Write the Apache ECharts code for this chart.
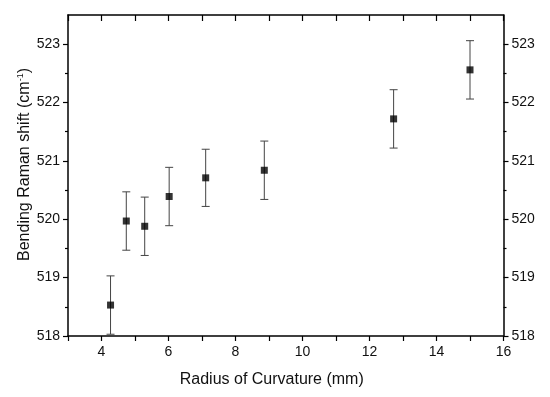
<!DOCTYPE html>
<html><head><meta charset="utf-8">
<script src="https://cdn.jsdelivr.net/npm/echarts@6/dist/echarts.min.js"></script>
<style>html,body{margin:0;padding:0;background:#fff}#c{width:550px;height:397px}</style>
</head><body><div id="c"></div>
<script>
var radius = [4.27, 4.74, 5.29, 6.02, 7.11, 8.86, 12.72, 15.0];
var shift  = [518.53, 519.97, 519.88, 520.39, 520.71, 520.84, 521.72, 522.56];
var err    = [0.5, 0.5, 0.5, 0.5, 0.49, 0.5, 0.5, 0.5];
var xTicks = [3,4,5,6,7,8,9,10,11,12,13,14,15,16];
var xLabels = [4,6,8,10,12,14,16];
var yLabels = [518,519,520,521,522,523];
var yMinor = [518.5,519.5,520.5,521.5,522.5];

var pts = radius.map(function(x,i){return [x, shift[i]];});
var errData = radius.map(function(x,i){return [x, shift[i]-err[i], shift[i]+err[i]];});
var font = 'Liberation Sans, Arial, sans-serif';
var axLine = {show:true, lineStyle:{color:'#000', width:1.5}};
var chart = echarts.init(document.getElementById('c'));
var yBase = {type:'value', min:518, max:523.5, splitLine:{show:false}};
chart.setOption({
  animation:false,
  grid:{left:68, right:46.5, top:15, bottom:61},
  xAxis:[
    {type:'value', min:3, max:16, position:'bottom',
     axisLine:axLine, splitLine:{show:false},
     axisTick:{show:true, inside:false, length:5, customValues:xTicks, lineStyle:{color:'#000',width:1.2}},
     axisLabel:{customValues:xLabels, fontSize:14, color:'#111', margin:9, fontFamily:font},
     name:'Radius of Curvature (mm)', nameLocation:'middle', nameGap:36, nameMoveOverlap:false,
     nameTextStyle:{fontSize:16, color:'#111', fontFamily:font, padding:[0,28,0,0]}},
    {type:'value', min:3, max:16, position:'top',
     axisLine:axLine, splitLine:{show:false},
     axisTick:{show:true, inside:true, length:6, customValues:xTicks, lineStyle:{color:'#000',width:1.2}},
     axisLabel:{show:false}}
  ],
  yAxis:[
    Object.assign({}, yBase, {position:'left',
     axisLine:axLine,
     axisTick:{show:true, length:5, customValues:yLabels, lineStyle:{color:'#000',width:1.2}},
     axisLabel:{customValues:yLabels, fontSize:14, color:'#111', margin:8, fontFamily:font},
     name:'Bending Raman shift (cm{sup|-1})', nameLocation:'middle', nameGap:35, nameMoveOverlap:false,
     nameTextStyle:{fontSize:16, color:'#111', fontFamily:font, padding:[0,0,0,22],
       rich:{sup:{fontSize:9, verticalAlign:'bottom', padding:[0,0,8,0], color:'#111', fontFamily:font}}}}),
    Object.assign({}, yBase, {position:'left',
     axisLine:{show:false},
     axisTick:{show:true, length:3, customValues:yMinor, lineStyle:{color:'#000',width:1.2}},
     axisLabel:{show:false}}),
    Object.assign({}, yBase, {position:'right',
     axisLine:axLine,
     axisTick:{show:true, length:5, customValues:yLabels, lineStyle:{color:'#000',width:1.2}},
     axisLabel:{customValues:yLabels, fontSize:14, color:'#111', margin:8, fontFamily:font}}),
    Object.assign({}, yBase, {position:'right',
     axisLine:{show:false},
     axisTick:{show:true, length:3, customValues:yMinor, lineStyle:{color:'#000',width:1.2}},
     axisLabel:{show:false}})
  ],
  series:[
    {type:'custom', xAxisIndex:0, yAxisIndex:0, data:errData, z:2,
     renderItem:function(params, api){
       var x = api.value(0);
       var lo = api.coord([x, api.value(1)]);
       var hi = api.coord([x, api.value(2)]);
       var hw = 4;
       var st = {stroke:'#444', lineWidth:1};
       return {type:'group', children:[
         {type:'line', shape:{x1:lo[0],y1:lo[1],x2:hi[0],y2:hi[1]}, style:st},
         {type:'line', shape:{x1:lo[0]-hw,y1:lo[1],x2:lo[0]+hw,y2:lo[1]}, style:st},
         {type:'line', shape:{x1:hi[0]-hw,y1:hi[1],x2:hi[0]+hw,y2:hi[1]}, style:st}
       ]};
     }},
    {type:'scatter', xAxisIndex:0, yAxisIndex:0, data:pts, symbol:'rect', symbolSize:7, z:3,
     itemStyle:{color:'#000'}}
  ]
});
</script></body></html>
